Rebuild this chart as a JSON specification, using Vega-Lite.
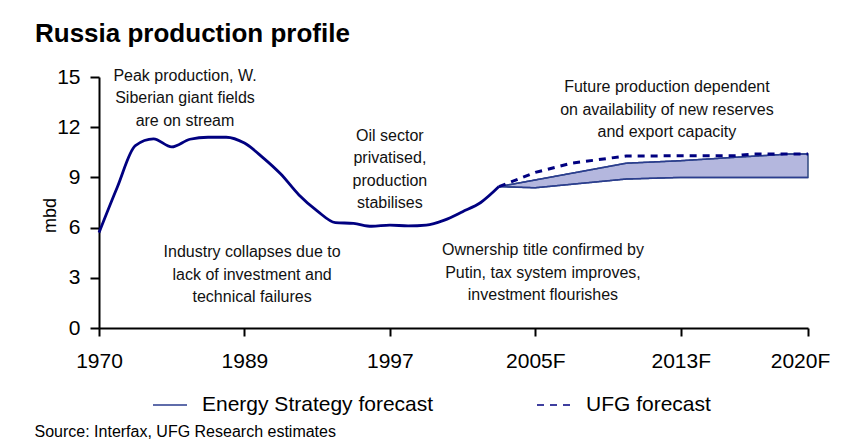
{
  "$schema": "https://vega.github.io/schema/vega-lite/v6.json",
  "width": 709,
  "height": 251,
  "autosize": {"type": "none"},
  "padding": {"left": 99, "top": 77, "right": 33, "bottom": 117},
  "background": "white",
  "config": {
    "font": "Liberation Sans",
    "view": {"stroke": null},
    "axis": {"grid": false}
  },
  "title": {
    "text": "Russia production profile",
    "fontSize": 26,
    "fontWeight": "bold",
    "color": "black",
    "anchor": "start",
    "frame": "group",
    "dx": -64,
    "offset": 19
  },
  "datasets": {
    "hist": [
      {"i": 0, "v": 5.7}, {"i": 1, "v": 8.4}, {"i": 2, "v": 10.9}, {"i": 3, "v": 11.3},
      {"i": 4, "v": 10.82}, {"i": 5, "v": 11.28}, {"i": 6, "v": 11.4}, {"i": 7, "v": 11.4},
      {"i": 8, "v": 11.05}, {"i": 9, "v": 10.2}, {"i": 10, "v": 9.2}, {"i": 11, "v": 7.95},
      {"i": 12, "v": 7.0}, {"i": 13, "v": 6.3}, {"i": 14, "v": 6.25}, {"i": 15, "v": 6.08},
      {"i": 16, "v": 6.15}, {"i": 17, "v": 6.1}, {"i": 18, "v": 6.15}, {"i": 19, "v": 6.45},
      {"i": 20, "v": 6.95}, {"i": 21, "v": 7.5}, {"i": 22, "v": 8.45}
    ],
    "band": [
      {"i": 22, "lo": 8.45, "hi": 8.45}, {"i": 24, "lo": 8.38, "hi": 8.85},
      {"i": 29, "lo": 8.9, "hi": 9.85}, {"i": 32, "lo": 9.0, "hi": 10.0},
      {"i": 35, "lo": 9.0, "hi": 10.2}, {"i": 38, "lo": 9.0, "hi": 10.4},
      {"i": 39, "lo": 9.0, "hi": 10.4}
    ],
    "es": [
      {"i": 22, "v": 8.45, "series": "Energy Strategy forecast", "edge": "hi"},
      {"i": 24, "v": 8.85, "series": "Energy Strategy forecast", "edge": "hi"},
      {"i": 29, "v": 9.85, "series": "Energy Strategy forecast", "edge": "hi"},
      {"i": 32, "v": 10.0, "series": "Energy Strategy forecast", "edge": "hi"},
      {"i": 35, "v": 10.2, "series": "Energy Strategy forecast", "edge": "hi"},
      {"i": 38, "v": 10.4, "series": "Energy Strategy forecast", "edge": "hi"},
      {"i": 39, "v": 10.4, "series": "Energy Strategy forecast", "edge": "hi"},
      {"i": 22, "v": 8.45, "series": "Energy Strategy forecast", "edge": "lo"},
      {"i": 24, "v": 8.38, "series": "Energy Strategy forecast", "edge": "lo"},
      {"i": 29, "v": 8.9, "series": "Energy Strategy forecast", "edge": "lo"},
      {"i": 32, "v": 9.0, "series": "Energy Strategy forecast", "edge": "lo"},
      {"i": 39, "v": 9.0, "series": "Energy Strategy forecast", "edge": "lo"}
    ],
    "ufg": [
      {"i": 22, "v": 8.45, "series": "UFG forecast"},
      {"i": 24, "v": 9.3, "series": "UFG forecast"},
      {"i": 26, "v": 9.85, "series": "UFG forecast"},
      {"i": 29, "v": 10.28, "series": "UFG forecast"},
      {"i": 35, "v": 10.3, "series": "UFG forecast"},
      {"i": 36, "v": 10.4, "series": "UFG forecast"},
      {"i": 39, "v": 10.4, "series": "UFG forecast"}
    ],
    "notes": [
      {"i": 4.73, "v": 15.06, "note": "Peak production, W.\nSiberian giant fields\nare on stream"},
      {"i": 16.0, "v": 11.48, "note": "Oil sector\nprivatised,\nproduction\nstabilises"},
      {"i": 8.42, "v": 4.54, "note": "Industry collapses due to\nlack of investment and\ntechnical failures"},
      {"i": 24.42, "v": 4.66, "note": "Ownership title confirmed by\nPutin, tax system improves,\ninvestment flourishes"},
      {"i": 31.24, "v": 14.38, "note": "Future production dependent\non availability of new reserves\nand export capacity"}
    ]
  },
  "encoding": {
    "x": {
      "field": "i",
      "type": "quantitative",
      "scale": {"domain": [0, 39], "nice": false, "zero": false},
      "axis": {
        "values": [0, 8, 16, 24, 32, 39],
        "labelExpr": "datum.value == 0 ? '1970' : datum.value == 8 ? '1989' : datum.value == 16 ? '1997' : datum.value == 24 ? '2005F' : datum.value == 32 ? '2013F' : '2020F'",
        "labelFlush": false,
        "labelOffset": {"condition": {"test": "datum.value == 39", "value": -8}, "value": 0},
        "labelFontSize": 21,
        "labelColor": "black",
        "labelPadding": 14,
        "tickSize": 8,
        "tickWidth": 2,
        "tickColor": "black",
        "domainColor": "black",
        "domainWidth": 2,
        "title": "Source: Interfax, UFG Research estimates",
        "titleFontSize": 16,
        "titleFontWeight": "normal",
        "titleColor": "black",
        "titleX": -65,
        "titleY": 103,
        "titleAlign": "left",
        "titleAnchor": "start",
        "titleBaseline": "middle"
      }
    },
    "y": {
      "field": "v",
      "type": "quantitative",
      "scale": {"domain": [0, 15], "nice": false},
      "axis": {
        "values": [0, 3, 6, 9, 12, 15],
        "labelFontSize": 21,
        "labelColor": "black",
        "labelPadding": 10,
        "tickSize": 9,
        "tickWidth": 2,
        "tickColor": "black",
        "domainColor": "black",
        "domainWidth": 2,
        "title": "mbd",
        "titleFontSize": 18,
        "titleFontWeight": "normal",
        "titleColor": "black",
        "titleX": -49,
        "titleY": 138,
        "titleBaseline": "middle"
      }
    }
  },
  "layer": [
    {
      "data": {"name": "band"},
      "mark": {"type": "area", "fill": "#b4b7de", "stroke": "#2f4a80", "strokeWidth": 1.5},
      "encoding": {
        "y": {"field": "lo", "type": "quantitative"},
        "y2": {"field": "hi"}
      }
    },
    {
      "data": {"name": "es"},
      "mark": {"type": "line", "strokeWidth": 1.5},
      "encoding": {
        "detail": {"field": "edge", "type": "nominal"},
        "color": {
          "field": "series",
          "type": "nominal",
          "scale": {"domain": ["Energy Strategy forecast", "UFG forecast"], "range": ["#2b3d8f", "#000080"]},
          "legend": {
            "title": null,
            "orient": "none",
            "legendX": 53,
            "legendY": 310,
            "direction": "horizontal",
            "padding": 0,
            "labelFontSize": 21,
            "labelColor": "black",
            "labelLimit": 400,
            "symbolType": "stroke",
            "symbolSize": 1156,
            "symbolStrokeWidth": 1.5,
            "labelOffset": 14,
            "columnPadding": 100,
            "symbolDash": [3, 2],
            "encode": {
              "symbols": {
                "update": {
                  "strokeWidth": {"value": 1.5},
                  "strokeDash": [
                    {"test": "datum.value == 'UFG forecast'", "value": [3, 2]},
                    {"value": [1, 0]}
                  ]
                }
              }
            }
          }
        },
        "strokeDash": {
          "field": "series",
          "type": "nominal",
          "scale": {"domain": ["Energy Strategy forecast", "UFG forecast"], "range": [[1, 0], [7, 6]]}
        }
      }
    },
    {
      "data": {"name": "ufg"},
      "mark": {"type": "line", "strokeWidth": 3},
      "encoding": {
        "color": {"field": "series", "type": "nominal"},
        "strokeDash": {"field": "series", "type": "nominal"}
      }
    },
    {
      "data": {"name": "hist"},
      "mark": {"type": "line", "color": "#000080", "strokeWidth": 2.8, "interpolate": "monotone"},
      "encoding": {}
    },
    {
      "data": {"name": "notes"},
      "mark": {"type": "text", "fontSize": 16, "lineHeight": 22.5, "align": "center", "baseline": "middle", "lineBreak": "\n", "color": "#111111"},
      "encoding": {
        "text": {"field": "note", "type": "nominal"}
      }
    }
  ]
}
